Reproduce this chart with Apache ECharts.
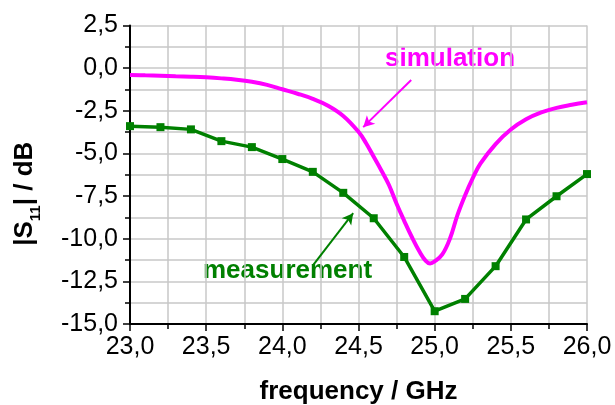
<!DOCTYPE html>
<html>
<head>
<meta charset="utf-8">
<script src="https://cdn.jsdelivr.net/npm/echarts@6/dist/echarts.min.js"></script>
<style>
  html, body { margin: 0; padding: 0; background: #fff; }
  #chart { width: 615px; height: 405px; }
</style>
</head>
<body>
<div id="chart"></div>
<script>
// measured |S11|, one point every 0.2 GHz
let measFreq = [23.0, 23.2, 23.4, 23.6, 23.8, 24.0, 24.2, 24.4, 24.6, 24.8, 25.0, 25.2, 25.4, 25.6, 25.8, 26.0];
let measDb = [-3.40, -3.46, -3.59, -4.28, -4.63, -5.33, -6.08, -7.31, -8.80, -11.07, -14.25, -13.53, -11.61, -8.87, -7.51, -6.21];

// simulated curve (denser around the resonance)
let simFreq = [23.0, 23.1, 23.2, 23.3, 23.4, 23.5, 23.6, 23.7, 23.8, 23.9, 24.0, 24.1, 24.2, 24.3, 24.4, 24.5,
  24.55, 24.6, 24.65, 24.7, 24.75, 24.8, 24.85, 24.9, 24.94, 24.97, 25.0, 25.05, 25.1, 25.15, 25.2, 25.25, 25.3,
  25.4, 25.5, 25.6, 25.7, 25.8, 25.9, 26.0];
let simDb = [-0.40, -0.42, -0.44, -0.47, -0.50, -0.54, -0.60, -0.68, -0.80, -0.98, -1.24, -1.50, -1.80, -2.20, -2.80, -3.73,
  -4.40, -5.20, -6.00, -6.85, -7.95, -8.95, -9.90, -10.75, -11.28, -11.45, -11.33, -10.92, -10.00, -8.60, -7.45, -6.45, -5.60,
  -4.45, -3.60, -3.00, -2.60, -2.33, -2.15, -2.00];

let xTicks = [23, 26, 0.5];
let yTicks = [-15, 2.5, 2.5];

let fontFam = 'Liberation Sans, Arial, sans-serif';
let magenta = '#ff00ff';
let green = '#008000';

function zip(a, b) {
  return a.map((v, i) => [v, b[i]]);
}
function comma(v) {
  return v.toFixed(1).replace('.', ',');
}

let chart = echarts.init(document.getElementById('chart'), null, {renderer: 'canvas'});

let axisCommon = {
  axisLine: {show: true, onZero: false, lineStyle: {color: '#000', width: 2}},
  axisTick: {show: true, inside: false, length: 7, lineStyle: {color: '#000', width: 1.5}},
  minorTick: {show: true, splitNumber: 2, length: 5, lineStyle: {color: '#000', width: 1.5}},
  splitLine: {show: true, lineStyle: {color: '#c8c8c8', width: 1.5}},
  minorSplitLine: {show: true, lineStyle: {color: '#c8c8c8', width: 1.5}},
  axisLabel: {color: '#000', fontSize: 25, fontFamily: fontFam, formatter: comma}
};

let option = {
  animation: false,
  grid: {left: 130, right: 28, top: 25.5, bottom: 81, containLabel: false, outerBoundsMode: 'none'},
  xAxis: Object.assign({}, axisCommon, {
    type: 'value',
    min: xTicks[0],
    max: xTicks[1],
    interval: xTicks[2],
    name: 'frequency / GHz',
    nameLocation: 'middle',
    nameGap: 55,
    nameTextStyle: {color: '#000', fontSize: 26, fontWeight: 'bold', fontFamily: fontFam},
    axisLabel: Object.assign({}, axisCommon.axisLabel, {margin: 11})
  }),
  yAxis: Object.assign({}, axisCommon, {
    type: 'value',
    min: yTicks[0],
    max: yTicks[1],
    interval: yTicks[2],
    name: '{m||S}{s|11}{m|| / dB}',
    nameLocation: 'middle',
    nameRotate: 90,
    nameGap: 87,
    nameTextStyle: {
      padding: [0, 38, 0, 0],
      rich: {
        m: {fontSize: 26, fontWeight: 'bold', fontFamily: fontFam, color: '#000', lineHeight: 36, verticalAlign: 'middle'},
        s: {fontSize: 15, fontWeight: 'bold', fontFamily: fontFam, color: '#000', lineHeight: 15, verticalAlign: 'bottom'}
      }
    },
    axisLabel: Object.assign({}, axisCommon.axisLabel, {margin: 12})
  }),
  series: [
    {
      name: 'simulation',
      type: 'line',
      data: zip(simFreq, simDb),
      smooth: 0.4,
      showSymbol: false,
      symbol: 'none',
      lineStyle: {color: magenta, width: 4},
      z: 3,
      markLine: {
        silent: true,
        symbol: ['none', 'arrow'],
        symbolSize: [9, 11],
        label: {show: false},
        lineStyle: {color: magenta, width: 2, type: 'solid'},
        data: [[{coord: [24.846, -0.70]}, {coord: [24.531, -3.46]}]]
      }
    },
    {
      name: 'measurement',
      type: 'line',
      data: zip(measFreq, measDb),
      symbol: 'rect',
      symbolSize: 8,
      showAllSymbol: true,
      itemStyle: {color: green},
      lineStyle: {color: green, width: 3.5},
      z: 2,
      markLine: {
        silent: true,
        symbol: ['none', 'arrow'],
        symbolSize: [9, 11],
        label: {show: false},
        lineStyle: {color: green, width: 2, type: 'solid'},
        data: [[{coord: [24.202, -11.55]}, {coord: [24.465, -8.50]}]]
      }
    }
  ],
  graphic: [
    {
      type: 'text',
      left: 385,
      top: 46,
      style: {text: 'simulation', fill: magenta, font: 'bold 26px ' + fontFam}
    },
    {
      type: 'text',
      left: 203,
      top: 258,
      style: {text: 'measurement', fill: green, font: 'bold 26px ' + fontFam}
    }
  ]
};

chart.setOption(option);
</script>
</body>
</html>
